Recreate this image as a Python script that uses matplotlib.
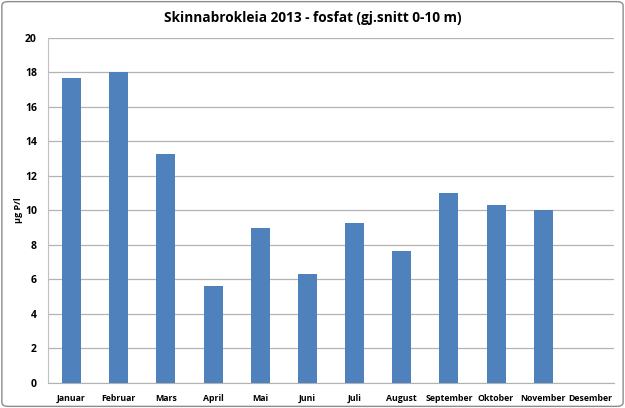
import numpy as np
import matplotlib
matplotlib.use('Agg')
import matplotlib.pyplot as plt
from matplotlib.patches import FancyBboxPatch

months = ['Januar', 'Februar', 'Mars', 'April', 'Mai', 'Juni', 'Juli',
          'August', 'September', 'Oktober', 'November', 'Desember']
fosfat = [17.7, 18.0, 13.3, 5.65, 9.0, 6.3, 9.3, 7.65, 11.0, 10.3, 10.0, np.nan]
y_ticks = [0, 2, 4, 6, 8, 10, 12, 14, 16, 18, 20]

plt.rcParams['font.family'] = ['Open Sans', 'DejaVu Sans']

fig = plt.figure(figsize=(6.25, 4.08), dpi=100)
# ramme rundt hele diagrammet
fig.patches.append(FancyBboxPatch((0.003, 0.004), 0.994, 0.992,
                                  boxstyle='round,pad=0,rounding_size=0.01',
                                  transform=fig.transFigure, fill=False,
                                  edgecolor='#8c8c8c', linewidth=1.0))

ax = fig.add_axes([0.0768, 0.0613, 0.9056, 0.8456])
x = np.arange(len(months))
ax.bar(x, fosfat, width=0.4, color='#4F81BD', zorder=3)

ax.set_xlim(-0.5, len(months) - 0.5)
ax.set_ylim(0, 20)
ax.set_yticks(y_ticks)
ax.set_yticklabels([str(t) for t in y_ticks], fontsize=7.5, fontweight='bold')
ax.set_xticks(x)
ax.set_xticklabels(months, fontsize=6.3, fontweight='bold')
ax.tick_params(axis='both', length=0)
ax.tick_params(axis='y', pad=8)
ax.tick_params(axis='x', pad=8)
ax.grid(axis='y', color='#b3b3b3', linewidth=0.9, zorder=0)
for s in ['top', 'right']:
    ax.spines[s].set_visible(False)
ax.spines['left'].set_color('#c0c0c0')
ax.spines['bottom'].set_color('#b3b3b3')

ax.set_ylabel('µg P/l', fontsize=6.5, fontweight='bold', labelpad=0)
ax.yaxis.set_label_coords(-0.045, 0.5)
fig.text(0.5, 0.955, 'Skinnabrokleia 2013 - fosfat (gj.snitt 0-10 m)',
         ha='center', va='center', fontsize=9.8, fontweight='bold')

fig.savefig('out.png', dpi=100)
